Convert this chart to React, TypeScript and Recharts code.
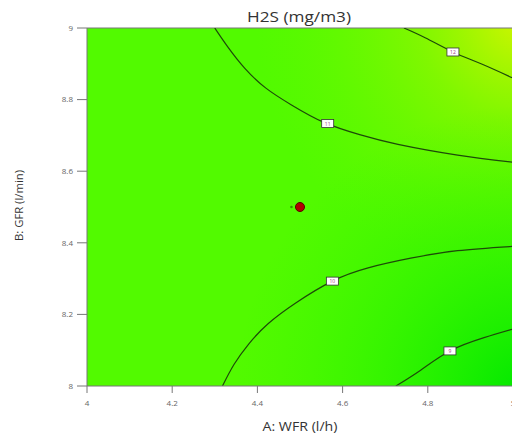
import React from "react";
import {
  ComposedChart,
  XAxis,
  YAxis,
  Line,
  Scatter,
  ReferenceArea,
  ReferenceDot,
  ReferenceLine,
} from "recharts";

const xTicks = [4, 4.2, 4.4, 4.6, 4.8, 5];
const yTicks = [8, 8.2, 8.4, 8.6, 8.8, 9];

const contour12 = [
  { x: 4.744, y: 9 },
  { x: 4.795, y: 8.972 },
  { x: 4.859, y: 8.933 },
  { x: 4.925, y: 8.9 },
  { x: 5, y: 8.86 },
];
const contour11 = [
  { x: 4.3, y: 9 },
  { x: 4.33, y: 8.948 },
  { x: 4.37, y: 8.888 },
  { x: 4.42, y: 8.832 },
  { x: 4.48, y: 8.785 },
  { x: 4.555, y: 8.737 },
  { x: 4.64, y: 8.702 },
  { x: 4.73, y: 8.675 },
  { x: 4.87, y: 8.645 },
  { x: 5, y: 8.625 },
];
const contour10 = [
  { x: 4.318, y: 8 },
  { x: 4.345, y: 8.06 },
  { x: 4.38, y: 8.118 },
  { x: 4.425, y: 8.174 },
  { x: 4.49, y: 8.232 },
  { x: 4.576, y: 8.293 },
  { x: 4.66, y: 8.33 },
  { x: 4.76, y: 8.357 },
  { x: 4.87, y: 8.378 },
  { x: 5, y: 8.39 },
];
const contour9 = [
  { x: 4.725, y: 8 },
  { x: 4.784, y: 8.045 },
  { x: 4.852, y: 8.098 },
  { x: 4.932, y: 8.135 },
  { x: 5, y: 8.159 },
];
const contourLabels = [
  { x: 4.859, y: 8.933, text: "12" },
  { x: 4.565, y: 8.733, text: "11" },
  { x: 4.576, y: 8.293, text: "10" },
  { x: 4.852, y: 8.098, text: "9" },
];
const centerPoint = [{ x: 4.5, y: 8.5 }];
const replicateMark = [{ x: 4.48, y: 8.5 }];

const title = "H2S (mg/m3)";
const xLabel = "A: WFR (l/h)";
const yLabel = "B: GFR (l/min)";

const lineColor = "#1d4a08";
const tickStyle = { fontSize: 8, fill: "#666", fontFamily: "Open Sans" };

const LabelBox = (props: any) => {
  const { cx, cy, text } = props;
  return (
    <g>
      <rect x={cx - 6} y={cy - 4} width={12} height={8} fill="#ffffff" stroke="#333" strokeWidth={0.8} />
      <text x={cx} y={cy + 2} textAnchor="middle" fontSize={5} fill="#a04080" fontFamily="Open Sans">
        {text}
      </text>
    </g>
  );
};

export default function App() {
  const contours = [contour12, contour11, contour10, contour9];
  return (
    <div style={{ position: "absolute", left: 0, top: 0, width: 512, height: 436, overflow: "hidden", background: "#fff" }}>
      <ComposedChart width={540} height={436} margin={{ top: 28, right: 27, bottom: 0, left: 0 }}>
        <defs>
          <radialGradient id="yellowGlow" gradientUnits="userSpaceOnUse" cx={525} cy={15} r={270}>
            <stop offset="0" stopColor="rgb(215,245,0)" stopOpacity={1} />
            <stop offset="0.4" stopColor="rgb(165,245,0)" stopOpacity={0.55} />
            <stop offset="1" stopColor="rgb(110,248,0)" stopOpacity={0} />
          </radialGradient>
          <radialGradient id="greenGlow" gradientUnits="userSpaceOnUse" cx={525} cy={395} r={290}>
            <stop offset="0" stopColor="rgb(0,232,0)" stopOpacity={1} />
            <stop offset="0.5" stopColor="rgb(25,240,0)" stopOpacity={0.5} />
            <stop offset="1" stopColor="rgb(50,245,0)" stopOpacity={0} />
          </radialGradient>
        </defs>
        <XAxis
          type="number"
          dataKey="x"
          domain={[4, 5]}
          ticks={xTicks}
          allowDataOverflow
          height={50}
          tickSize={7}
          tickMargin={7}
          stroke="#777"
          tick={tickStyle}
          interval={0}
        />
        <YAxis
          type="number"
          dataKey="y"
          domain={[8, 9]}
          ticks={yTicks}
          allowDataOverflow
          width={87}
          tickSize={10}
          tickMargin={4}
          stroke="#777"
          tick={tickStyle}
          interval={0}
        />
        <ReferenceArea x1={4} x2={5} y1={8} y2={9} fill="rgb(82,250,0)" fillOpacity={1} stroke="none" />
        <ReferenceArea x1={4} x2={5} y1={8} y2={9} fill="url(#yellowGlow)" fillOpacity={1} stroke="none" />
        <ReferenceArea x1={4} x2={5} y1={8} y2={9} fill="url(#greenGlow)" fillOpacity={1} stroke="none" />
        <ReferenceLine y={9} stroke="#777" strokeWidth={1} />
        {contours.map((c, i) => (
          <Line
            key={i}
            data={c}
            dataKey="y"
            type="natural"
            stroke={lineColor}
            strokeWidth={1.2}
            dot={false}
            activeDot={false}
            isAnimationActive={false}
          />
        ))}
        {contourLabels.map((l, i) => (
          <ReferenceDot key={"l" + i} x={l.x} y={l.y} r={6} shape={(p: any) => <LabelBox {...p} text={l.text} />} />
        ))}
        <Scatter data={replicateMark} dataKey="y" fill="#2e9a00" shape={(p: any) => <circle cx={p.cx} cy={p.cy} r={1.3} fill="#2e9a00" />} isAnimationActive={false} />
        <Scatter data={centerPoint} dataKey="y" fill="#b00000" stroke="#5a0000" isAnimationActive={false} />
      </ComposedChart>
      <svg width={512} height={436} style={{ position: "absolute", left: 0, top: 0, pointerEvents: "none" }}>
        <text x={299} y={22} textAnchor="middle" fontSize={14} fill="#333" fontFamily="Open Sans" textLength={104} lengthAdjust="spacingAndGlyphs">
          {title}
        </text>
        <text x={300} y={431} textAnchor="middle" fontSize={12} fill="#333" fontFamily="Open Sans" textLength={75} lengthAdjust="spacingAndGlyphs">
          {xLabel}
        </text>
        <text x={0} y={0} transform="translate(23,205.5) rotate(-90)" textAnchor="middle" fontSize={11} fill="#333" fontFamily="Open Sans" textLength={71} lengthAdjust="spacingAndGlyphs">
          {yLabel}
        </text>
      </svg>
    </div>
  );
}
